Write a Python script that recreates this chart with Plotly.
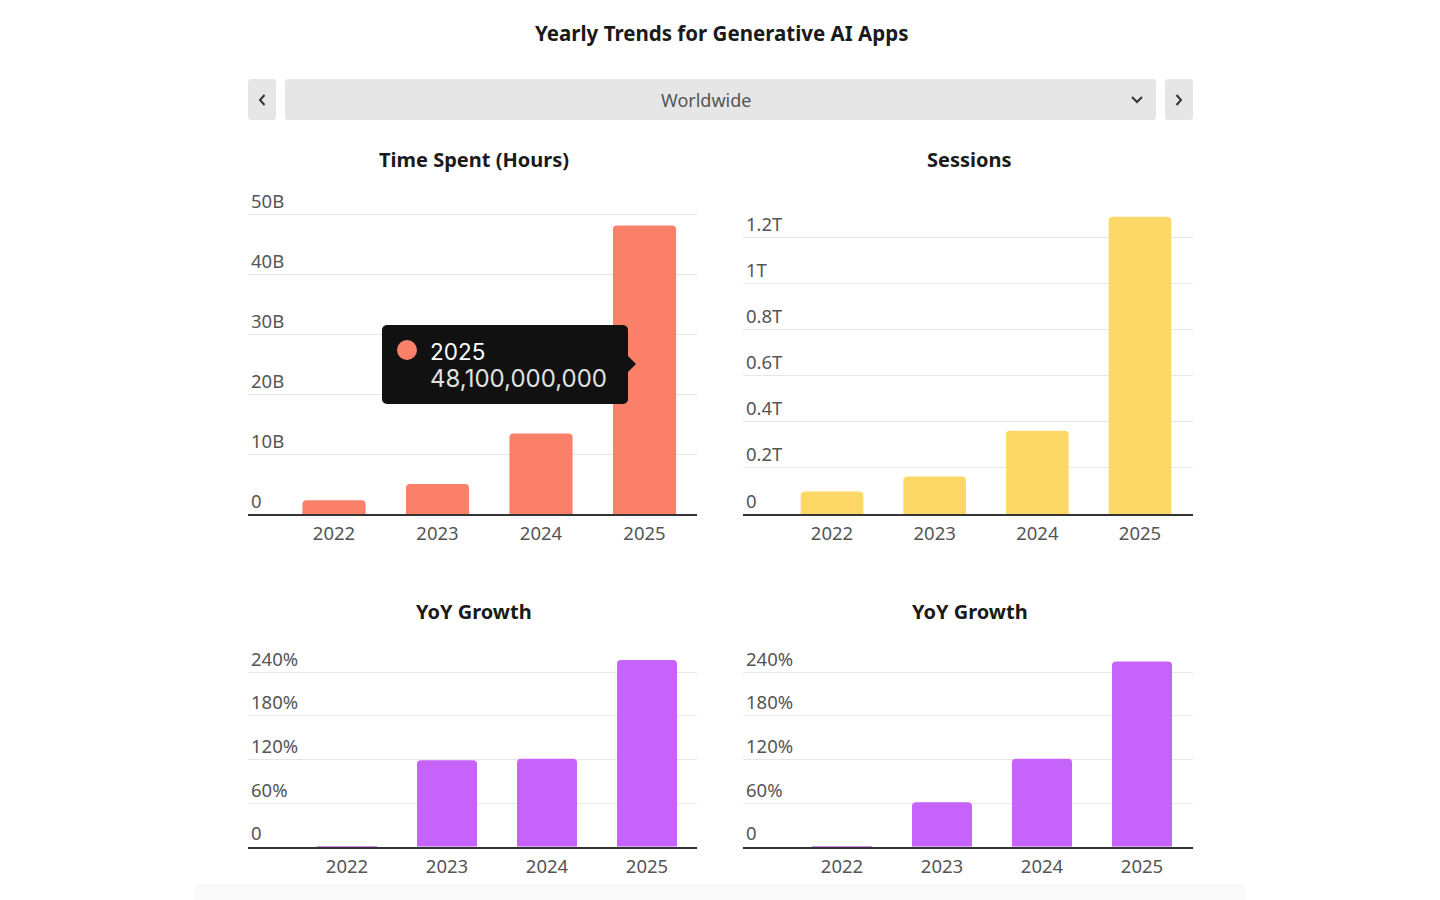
import math
import plotly.graph_objects as go

# ---------------- data ----------------
years = ["2022", "2023", "2024", "2025"]
time_spent_hours = [2.3e9, 5.0e9, 13.4e9, 48.1e9]
sessions = [0.098e12, 0.163e12, 0.361e12, 1.29e12]
yoy_time_spent = [0.5, 119, 121, 257]
yoy_sessions = [0.5, 61, 121, 255]

time_ticks = [0, 10e9, 20e9, 30e9, 40e9, 50e9]
time_tick_text = ["0", "10B", "20B", "30B", "40B", "50B"]
session_ticks = [0, 0.2e12, 0.4e12, 0.6e12, 0.8e12, 1.0e12, 1.2e12]
session_tick_text = ["0", "0.2T", "0.4T", "0.6T", "0.8T", "1T", "1.2T"]
yoy_ticks = [0, 60, 120, 180, 240]
yoy_tick_text = ["0", "60%", "120%", "180%", "240%"]

region = "Worldwide"
title = "Yearly Trends for Generative AI Apps"
panel_titles = ["Time Spent (Hours)", "Sessions", "YoY Growth", "YoY Growth"]

CORAL = "#FA806A"
YELLOW = "#FDD866"
PURPLE = "#C663FA"

W, H = 1440, 900
OFF = 8  # page body margin
FONT = "Noto Sans"


def X(px):
    return (px - OFF) / W


def Y(py):
    return 1 - (py - OFF) / H


def path_px(points, close=False):
    s = "M " + " L ".join(f"{X(a):.5f},{Y(b):.5f}" for a, b in points)
    return s + (" Z" if close else "")


def rounded_rect(x0, y0, x1, y1, r):
    pts = []

    def arc(cx, cy, a0, a1):
        out = []
        for i in range(7):
            a = math.radians(a0 + (a1 - a0) * i / 6)
            out.append((cx + r * math.cos(a), cy + r * math.sin(a)))
        return out
    pts += arc(x0 + r, y0 + r, 180, 270)
    pts += arc(x1 - r, y0 + r, 270, 360)
    pts += arc(x1 - r, y1 - r, 0, 90)
    pts += arc(x0 + r, y1 - r, 90, 180)
    return path_px(pts, close=True)


fig = go.Figure()

TOP1 = 178
TOP2 = 630
panels = [
    (time_spent_hours, CORAL, (248, 697), (514, TOP1), (-0.831, 3.507), (0, 50e9 * (514 - TOP1) / 300), time_ticks, time_tick_text, 0.61),
    (sessions, YELLOW, (743, 1193), (514, TOP1), (-0.867, 3.516), (0, 1.2e12 * (514 - TOP1) / 276.6), session_ticks, session_tick_text, 0.61),
    (yoy_time_spent, PURPLE, (248, 697), (846.7, TOP2), (-0.99, 3.5), (0, 240 * (846.7 - TOP2) / 174.4), yoy_ticks, yoy_tick_text, 0.60),
    (yoy_sessions, PURPLE, (743, 1193), (846.7, TOP2), (-0.99, 3.51), (0, 240 * (846.7 - TOP2) / 174.4), yoy_ticks, yoy_tick_text, 0.60),
]

for i, (vals, color, xd, yd, xr, yr, tv, tt, bw) in enumerate(panels, start=1):
    sfx = "" if i == 1 else str(i)
    fig.add_trace(go.Bar(
        x=years, y=vals, xaxis="x" + sfx, yaxis="y" + sfx,
        marker=dict(color=color, cornerradius=4, line=dict(width=0)),
        width=bw, hoverinfo="skip", showlegend=False,
    ))
    fig.layout["xaxis" + sfx] = dict(
        domain=[X(xd[0]), X(xd[1])], anchor="y" + sfx, range=list(xr),
        type="category", showgrid=False, showline=True, linecolor="#333333",
        linewidth=1.5, ticks="", tickfont=dict(family=FONT, size=18.5, color="#555555"),
        fixedrange=True, zeroline=False, ticklabelstandoff=2,
    )
    fig.layout["yaxis" + sfx] = dict(
        domain=[Y(yd[0]), Y(yd[1])], anchor="x" + sfx, range=list(yr),
        tickvals=tv, ticktext=tt, ticklabelposition="inside top",
        showgrid=True, gridcolor="#e6e6e6", gridwidth=1, zeroline=False,
        showline=False, ticks="", tickfont=dict(family=FONT, size=18.5, color="#555555"),
        fixedrange=True,
    )

shapes = []
annotations = []

# header / dropdown controls
for (a, b, c, d) in [(248, 79, 276, 120), (285, 79, 1156, 120), (1165, 79, 1193, 120)]:
    shapes.append(dict(type="path", xref="paper", yref="paper", path=rounded_rect(a, b, c, d, 3),
                       fillcolor="#e6e6e6", line=dict(width=0), layer="below"))
shapes.append(dict(type="path", xref="paper", yref="paper", path=path_px([(264.5, 95), (260, 100), (264.5, 105)]),
                   line=dict(color="#333333", width=2)))
shapes.append(dict(type="path", xref="paper", yref="paper", path=path_px([(1176.5, 95), (1181, 100), (1176.5, 105)]),
                   line=dict(color="#333333", width=2)))
shapes.append(dict(type="path", xref="paper", yref="paper", path=path_px([(1132, 97), (1137, 102), (1142, 97)]),
                   line=dict(color="#333333", width=2)))

# faint footer band
shapes.append(dict(type="rect", xref="paper", yref="paper", x0=X(195), x1=X(1245), y0=Y(900 + OFF), y1=Y(884),
                   fillcolor="#fafafa", line=dict(width=0), layer="below"))

annotations.append(dict(text=f"<b>{title}</b>", x=X(721), y=Y(33), xref="paper", yref="paper",
                        showarrow=False, font=dict(family=FONT, size=20.5, color="#1a1a1a"),
                        xanchor="center", yanchor="middle"))
annotations.append(dict(text=region, x=X(706), y=Y(100), xref="paper", yref="paper",
                        showarrow=False, font=dict(family=FONT, size=18, color="#555555"),
                        xanchor="center", yanchor="middle"))

for txt, cx, cy in zip(panel_titles, [474, 970, 474, 970], [160, 160, 611, 611]):
    annotations.append(dict(text=f"<b>{txt}</b>", x=X(cx), y=Y(cy), xref="paper", yref="paper",
                            showarrow=False, font=dict(family=FONT, size=20, color="#1a1a1a"),
                            xanchor="center", yanchor="middle"))

# tooltip on 2025 time spent
shapes.append(dict(type="path", xref="paper", yref="paper", path=rounded_rect(382, 325, 628, 404, 5),
                   fillcolor="#111111", line=dict(width=0)))
shapes.append(dict(type="path", xref="paper", yref="paper",
                   path=path_px([(627, 355), (636, 364), (627, 373)], close=True),
                   fillcolor="#111111", line=dict(width=0)))
shapes.append(dict(type="circle", xref="paper", yref="paper",
                   x0=X(397), x1=X(417), y0=Y(360), y1=Y(340),
                   fillcolor=CORAL, line=dict(width=0)))
annotations.append(dict(text=years[-1], x=X(428), y=Y(351), xref="paper", yref="paper",
                        showarrow=False, font=dict(family="Inter", size=22.5, color="#ffffff"),
                        xanchor="left", yanchor="middle"))
annotations.append(dict(text=f"{time_spent_hours[-1]:,.0f}", x=X(428), y=Y(378), xref="paper", yref="paper",
                        showarrow=False, font=dict(family="Inter", size=24, color="#e0e0e0"),
                        xanchor="left", yanchor="middle"))

fig.update_layout(
    width=W, height=H, margin=dict(l=0, r=0, t=0, b=0),
    paper_bgcolor="#ffffff", plot_bgcolor="rgba(0,0,0,0)",
    shapes=shapes, annotations=annotations, showlegend=False,
    font=dict(family=FONT), bargap=0.39,
)

fig.write_html("out.html", config={"displayModeBar": False})
